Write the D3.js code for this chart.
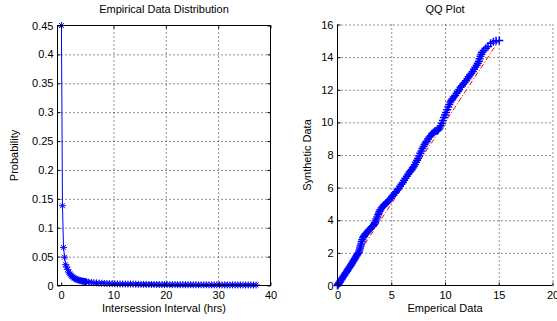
<!DOCTYPE html>
<html>
<head>
<meta charset="utf-8">
<script src="https://cdn.jsdelivr.net/npm/d3@7"></script>
<style>
  body { margin: 0; background: #fff; }
  svg { display: block; font-family: "Liberation Sans", Arial, sans-serif; }
</style>
</head>
<body>
<svg id="chart" width="557" height="321"></svg>
<script>
// left panel: empirical pdf of intersession interval
const distX = [0.05, 0.25, 0.45, 0.65, 0.85, 1.05, 1.25, 1.45, 1.65, 1.85, 2.05, 2.25, 2.45, 2.65, 2.85,
  3.05, 3.25, 3.45, 3.65, 3.85, 4.05, 4.25, 4.45, 4.65, 4.85,
  5.25, 5.75, 6.25, 6.75, 7.25, 7.75, 8.25, 8.75, 9.25, 9.75, 10.25, 10.75, 11.25, 11.75, 12.25, 12.75,
  13.25, 13.75, 14.25, 14.75, 15.25, 15.75, 16.25, 16.75, 17.25, 17.75, 18.25, 18.75, 19.25, 19.75,
  20.25, 20.75, 21.25, 21.75, 22.25, 22.75, 23.25, 23.75, 24.25, 24.75, 25.25, 25.75, 26.25, 26.75,
  27.25, 27.75, 28.25, 28.75, 29.25, 29.75, 30.25, 30.75, 31.25, 31.75, 32.25, 32.75, 33.25, 33.75,
  34.25, 34.75, 35.25, 35.75, 36.25, 36.75, 37.25];
const distY = [0.45, 0.138, 0.066, 0.049, 0.036, 0.032, 0.028, 0.023, 0.02, 0.018, 0.016, 0.0145, 0.013, 0.012, 0.011,
  0.0102, 0.0095, 0.009, 0.0085, 0.008, 0.0077, 0.0074, 0.007, 0.0066, 0.0063,
  0.0058, 0.0053, 0.0049, 0.0045, 0.0042, 0.0039, 0.0036, 0.0034, 0.0032, 0.0031, 0.0029, 0.0028, 0.0027, 0.0026, 0.0025, 0.0024,
  0.0026, 0.0023, 0.0022, 0.0021, 0.002, 0.002, 0.0019, 0.0019, 0.0018, 0.0018, 0.0017, 0.0017, 0.0016, 0.0016,
  0.0016, 0.0015, 0.0015, 0.0015, 0.0014, 0.0014, 0.0014, 0.0014, 0.0013, 0.0013, 0.0013, 0.0013, 0.0012, 0.0012,
  0.0012, 0.0012, 0.0012, 0.0011, 0.0011, 0.0011, 0.0011, 0.0011, 0.001, 0.001, 0.001, 0.001, 0.001, 0.001,
  0.001, 0.0009, 0.0009, 0.0009, 0.0009, 0.0009, 0.0009];
const distXTicks = [0, 10, 20, 30, 40];
const distYTicks = [0, 0.05, 0.1, 0.15, 0.2, 0.25, 0.3, 0.35, 0.4, 0.45];

// right panel: qq plot, empirical vs synthetic quantiles
const qqEmp = [0, 0.05, 0.1, 0.15, 0.2, 0.27, 0.35, 0.42, 0.5, 0.57, 0.65, 0.72, 0.8, 0.88, 0.95, 1.02, 1.1, 1.18,
  1.25, 1.33, 1.4, 1.48, 1.55, 1.62, 1.7, 1.78, 1.85, 1.92, 2.0, 2.05, 2.1, 2.15, 2.2, 2.25, 2.3, 2.38, 2.45, 2.52,
  2.6, 2.7, 2.8, 2.9, 3.0, 3.1, 3.2, 3.3, 3.4, 3.48, 3.55, 3.62, 3.7, 3.78, 3.85, 3.92, 4.0, 4.1, 4.2, 4.32, 4.45,
  4.58, 4.7, 4.82, 4.95, 5.08, 5.2, 5.32, 5.45, 5.58, 5.7, 5.82, 5.95, 6.08, 6.2, 6.32, 6.45, 6.58, 6.7, 6.8, 6.9,
  7.0, 7.1, 7.2, 7.3, 7.4, 7.5, 7.6, 7.7, 7.8, 7.9, 8.0, 8.1, 8.2, 8.3, 8.42, 8.55, 8.68, 8.8, 8.92, 9.05, 9.18,
  9.3, 9.4, 9.5, 9.6, 9.7, 9.8, 9.9, 10.0, 10.1, 10.2, 10.3, 10.4, 10.5, 10.6, 10.7, 10.82, 10.95, 11.08, 11.2,
  11.32, 11.45, 11.58, 11.7, 11.82, 11.95, 12.08, 12.2, 12.32, 12.45, 12.58, 12.7, 12.82, 12.95, 13.05, 13.15,
  13.22, 13.3, 13.38, 13.45, 13.6, 13.8, 14.0, 14.25, 14.5, 14.75, 15.05];
const qqSyn = [0, 0.04, 0.1, 0.16, 0.2, 0.28, 0.35, 0.43, 0.5, 0.58, 0.65, 0.73, 0.8, 0.88, 0.95, 1.03, 1.1, 1.18,
  1.25, 1.34, 1.42, 1.5, 1.58, 1.66, 1.75, 1.82, 1.9, 1.97, 2.05, 2.17, 2.3, 2.42, 2.55, 2.68, 2.8, 2.92, 3.0, 3.08,
  3.15, 3.22, 3.3, 3.38, 3.45, 3.52, 3.6, 3.67, 3.75, 3.85, 3.95, 4.08, 4.2, 4.33, 4.45, 4.55, 4.65, 4.75, 4.85, 4.93, 5.0,
  5.08, 5.15, 5.25, 5.35, 5.45, 5.55, 5.65, 5.75, 5.85, 5.95, 6.08, 6.2, 6.32, 6.45, 6.58, 6.7, 6.82, 6.95, 7.02, 7.1,
  7.2, 7.3, 7.42, 7.55, 7.68, 7.8, 7.95, 8.1, 8.25, 8.4, 8.52, 8.65, 8.75, 8.85, 8.98, 9.1, 9.2, 9.3, 9.38, 9.45, 9.48,
  9.5, 9.56, 9.65, 9.8, 9.95, 10.12, 10.3, 10.45, 10.6, 10.78, 10.95, 11.1, 11.25, 11.35, 11.45, 11.55, 11.65, 11.78, 11.9,
  12.02, 12.15, 12.25, 12.35, 12.45, 12.55, 12.68, 12.8, 12.9, 13.0, 13.12, 13.25, 13.38, 13.5, 13.62, 13.75,
  13.9, 14.05, 14.18, 14.3, 14.4, 14.55, 14.65, 14.85, 14.95, 15.0, 15.02];
const qqRef = [0, 15];
const qqXTicks = [0, 5, 10, 15, 20];
const qqYTicks = [0, 2, 4, 6, 8, 10, 12, 14, 16];

const svg = d3.select("#chart");
const font = 11;

function grid(g, x, y, xt, yt) {
  g.append("g").attr("transform", `translate(0,${y.range()[0]})`)
    .call(d3.axisBottom(x).tickValues(xt).tickSize(-(y.range()[0] - y.range()[1])).tickFormat(""))
    .call(s => s.select(".domain").remove())
    .selectAll("line").attr("stroke", "#222").attr("stroke-dasharray", "1,3");
  g.append("g").attr("transform", `translate(${x.range()[0]},0)`)
    .call(d3.axisLeft(y).tickValues(yt).tickSize(-(x.range()[1] - x.range()[0])).tickFormat(""))
    .call(s => s.select(".domain").remove())
    .selectAll("line").attr("stroke", "#222").attr("stroke-dasharray", "1,3");
}

function axes(g, x, y, xt, yt, yfmt, box) {
  const bx = g.append("g").attr("transform", `translate(0,${y.range()[0]})`)
    .call(d3.axisBottom(x).tickValues(xt).tickSize(-3).tickPadding(6));
  const ly = g.append("g").attr("transform", `translate(${x.range()[0]},0)`)
    .call(d3.axisLeft(y).tickValues(yt).tickSize(-3).tickPadding(4).tickFormat(yfmt));
  [bx, ly].forEach(a => {
    a.select(".domain").remove();
    a.selectAll("text").attr("font-size", font).attr("font-family", "Liberation Sans, Arial, sans-serif").attr("fill", "#000");
    a.selectAll("line").attr("stroke", "#000");
  });
  if (box) {
    g.append("g").attr("transform", `translate(0,${y.range()[1]})`)
      .call(d3.axisTop(x).tickValues(xt).tickSize(-3).tickFormat(""))
      .call(s => s.select(".domain").remove());
    g.append("g").attr("transform", `translate(${x.range()[1]},0)`)
      .call(d3.axisRight(y).tickValues(yt).tickSize(-3).tickFormat(""))
      .call(s => s.select(".domain").remove());
    g.append("rect")
      .attr("x", x.range()[0]).attr("y", y.range()[1])
      .attr("width", x.range()[1] - x.range()[0]).attr("height", y.range()[0] - y.range()[1])
      .attr("fill", "none").attr("stroke", "#000").attr("stroke-width", 1);
  } else {
    g.append("line").attr("x1", x.range()[0]).attr("x2", x.range()[0])
      .attr("y1", y.range()[0]).attr("y2", y.range()[1]).attr("stroke", "#000");
    g.append("line").attr("x1", x.range()[0]).attr("x2", x.range()[1])
      .attr("y1", y.range()[0]).attr("y2", y.range()[0]).attr("stroke", "#000");
  }
}

function labels(g, x, y, title, xl, yl, ylx) {
  const cx = (x.range()[0] + x.range()[1]) / 2;
  const cy = (y.range()[0] + y.range()[1]) / 2;
  g.append("text").attr("x", cx).attr("y", 13).attr("text-anchor", "middle")
    .attr("font-size", font).text(title);
  g.append("text").attr("x", cx).attr("y", 312).attr("text-anchor", "middle")
    .attr("font-size", font).text(xl);
  g.append("text").attr("transform", `translate(${ylx},${cy}) rotate(-90)`)
    .attr("text-anchor", "middle").attr("font-size", font).text(yl);
}

// ---- left: distribution
{
  const x = d3.scaleLinear().domain([-0.7, 40]).range([57.5, 270.5]);
  const y = d3.scaleLinear().domain([0, 0.45]).range([285.5, 25.5]);
  const g = svg.append("g");
  grid(g, x, y, distXTicks.slice(1, -1), distYTicks.slice(1, -1));

  const pts = distX.map((d, i) => [d, distY[i]]);
  g.append("path").datum(pts)
    .attr("d", d3.line().x(d => x(d[0])).y(d => y(d[1])))
    .attr("fill", "none").attr("stroke", "#0000ff").attr("stroke-width", 1);

  const r = 3.5, k = r * 0.7;
  g.append("g").selectAll("path").data(pts).join("path")
    .attr("transform", d => `translate(${x(d[0])},${y(d[1])})`)
    .attr("d", `M${-r},0H${r}M0,${-r}V${r}M${-k},${-k}L${k},${k}M${-k},${k}L${k},${-k}`)
    .attr("fill", "none").attr("stroke", "#0000ff").attr("stroke-width", 1);

  axes(g, x, y, distXTicks, distYTicks, d3.format(""), true);
  labels(g, x, y, "Empirical Data Distribution", "Intersession Interval (hrs)", "Probability", 18);
}

// ---- right: qq plot
{
  const x = d3.scaleLinear().domain([0, 20]).range([337.5, 552.5]);
  const y = d3.scaleLinear().domain([0, 16]).range([285.5, 24.5]);
  const g = svg.append("g");
  grid(g, x, y, qqXTicks.slice(1), qqYTicks.slice(1));

  g.append("line")
    .attr("x1", x(qqRef[0])).attr("y1", y(qqRef[0]))
    .attr("x2", x(qqRef[1])).attr("y2", y(qqRef[1]))
    .attr("stroke", "#ff0000").attr("stroke-width", 1).attr("stroke-dasharray", "5,2,1,2");

  const r = 4;
  g.append("g").selectAll("path").data(qqEmp.map((d, i) => [d, qqSyn[i]])).join("path")
    .attr("transform", d => `translate(${x(d[0])},${y(d[1])})`)
    .attr("d", `M${-r},0H${r}M0,${-r}V${r}`)
    .attr("fill", "none").attr("stroke", "#0000ff").attr("stroke-width", 1.5);

  axes(g, x, y, qqXTicks, qqYTicks, d3.format(""), false);
  labels(g, x, y, "QQ Plot", "Emperical Data", "Synthetic Data", 311);
}
</script>
</body>
</html>
